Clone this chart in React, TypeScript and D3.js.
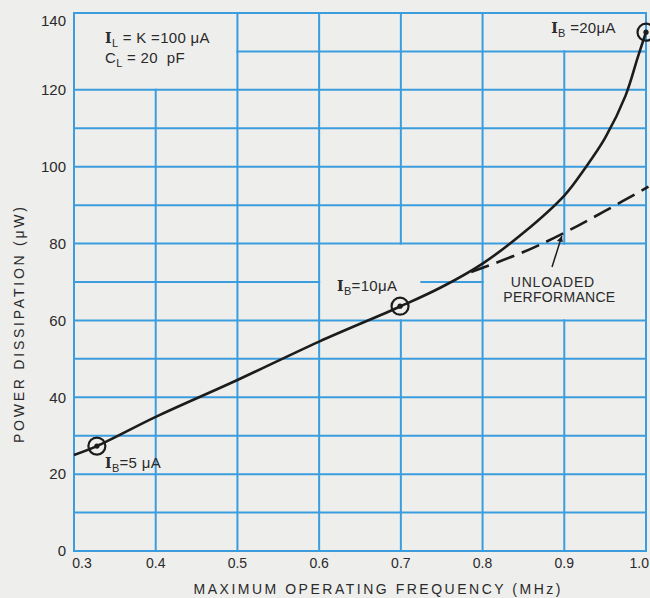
import React from 'react';
import * as d3 from 'd3';

const W = 650;
const H = 598;

// axis ticks
const xTicks = [0.3, 0.4, 0.5, 0.6, 0.7, 0.8, 0.9, 1.0];
const xTickLabels = ['0.3', '0.4', '0.5', '0.6', '0.7', '0.8', '0.9', '1.0'];
const yTicks = [0, 20, 40, 60, 80, 100, 120, 140];
const yGridValues = [0, 10, 20, 30, 40, 50, 60, 70, 80, 90, 100, 110, 120, 130, 140];

// loaded curve (solid)
const loadedFreq = [0.3, 0.328, 0.4, 0.5, 0.6, 0.7, 0.75, 0.8, 0.85, 0.9, 0.925, 0.95, 0.975, 0.99, 1.0];
const loadedPower = [25, 27.3, 34.9, 44.5, 54.5, 63.7, 68.7, 74.8, 82.8, 92.5, 99.5, 107.5, 118.5, 128.5, 135];

// unloaded performance (dashed)
const unloadedFreq = [0.786, 0.85, 0.9, 0.95, 1.003];
const unloadedPower = [72.6, 77.8, 82.8, 88.5, 94.8];

// bias current markers
const markerFreq = [0.328, 0.699, 1.0];
const markerPower = [27.3, 63.7, 135];
const markerSub = ['B', 'B', 'B'];
const markerValue = ['=5\u00a0\u03bcA', '=10\u03bcA', '\u00a0=20\u03bcA'];

// grid segments that differ from full span (value, from, to)
const hGridBreaks: Record<number, [number, number][]> = {
  130: [[0.5, 1.0]],
  70: [[0.3, 0.6], [0.725, 0.8]],
};
const vGridBreaks: Record<number, [number, number][]> = {
  0.4: [[0, 120]],
  0.7: [[0, 60], [80, 140]],
  0.9: [[0, 60], [80, 130]],
};

const GRID = '#3b9ddd';
const INK = '#1c1c1c';
const TXT = '#2a2a2a';
const FONT = '"Liberation Sans", Arial, sans-serif';
const SERIF_I = '"DejaVu Serif", "Liberation Serif", serif';

export default function App() {
  const x = d3.scaleLinear().domain([0.3, 1.0]).range([74, 646]);
  const y = d3.scaleLinear().domain([0, 140]).range([551, 13]);

  const line = d3
    .line<[number, number]>()
    .x((d) => x(d[0]))
    .y((d) => y(d[1]))
    .curve(d3.curveCatmullRom.alpha(0.5));

  const loaded = loadedFreq.map((f, i) => [f, loadedPower[i]] as [number, number]);
  const unloaded = unloadedFreq.map((f, i) => [f, unloadedPower[i]] as [number, number]);

  const hLines: { v: number; a: number; b: number }[] = [];
  yGridValues.forEach((v) => {
    const spans = hGridBreaks[v] || [[0.3, 1.0]];
    spans.forEach(([a, b]) => hLines.push({ v, a, b }));
  });
  const vLines: { v: number; a: number; b: number }[] = [];
  xTicks.forEach((v) => {
    const spans = vGridBreaks[v] || [[0, 140]];
    spans.forEach(([a, b]) => vLines.push({ v, a, b }));
  });

  const subLabel = (
    key: string,
    xv: number,
    yv: number,
    main: string,
    sub: string,
    rest: string,
    anchor: 'start' | 'end' = 'start'
  ) => (
    <text
      key={key}
      x={x(xv)}
      y={y(yv)}
      fontFamily={FONT}
      fontSize={15}
      fill={TXT}
      textAnchor={anchor}
      letterSpacing={0.3}
    >
      <tspan fontFamily={SERIF_I} fontWeight="bold" fontSize={14}>
        {main}
      </tspan>
      <tspan dy={4} fontSize={11}>
        {sub}
      </tspan>
      <tspan dy={-4}>{rest}</tspan>
    </text>
  );

  return (
    <svg
      width={W}
      height={H}
      viewBox={`0 0 ${W} ${H}`}
      style={{ position: 'absolute', left: 0, top: 0, display: 'block' }}
    >
      <rect x={0} y={0} width={W} height={H} fill="#eeeeec" />

      {/* grid */}
      <g stroke={GRID} strokeWidth={2} strokeLinecap="square">
        {hLines.map((l, i) => (
          <line key={'h' + i} x1={x(l.a)} x2={x(l.b)} y1={y(l.v)} y2={y(l.v)} />
        ))}
        {vLines.map((l, i) => (
          <line key={'v' + i} x1={x(l.v)} x2={x(l.v)} y1={y(l.a)} y2={y(l.b)} />
        ))}
      </g>

      {/* y tick labels */}
      <g fontFamily={FONT} fontSize={15} fill={TXT} textAnchor="end">
        {yTicks.map((v, i) => (
          <text key={v} x={66} y={y(v) + (i === yTicks.length - 1 ? 8 : 0)} dy="0.35em">
            {String(v)}
          </text>
        ))}
      </g>

      {/* x tick labels */}
      <g fontFamily={FONT} fontSize={14} fill={TXT}>
        {xTicks.map((v, i) => {
          const last = i === xTicks.length - 1;
          return (
            <text
              key={v}
              x={x(v) + (i === 0 ? 8 : last ? 3 : 0)}
              y={563}
              dy="0.35em"
              textAnchor={last ? 'end' : 'middle'}
            >
              {xTickLabels[i]}
            </text>
          );
        })}
      </g>

      {/* axis titles */}
      <text
        x={377}
        y={594}
        fontFamily={FONT}
        fontSize={14}
        fill={TXT}
        textAnchor="middle"
        textLength={367}
        lengthAdjust="spacing"
      >
        MAXIMUM OPERATING FREQUENCY (MHz)
      </text>
      <text
        transform="translate(24,325) rotate(-90)"
        fontFamily={FONT}
        fontSize={14}
        fill={TXT}
        textAnchor="middle"
        textLength={236}
        lengthAdjust="spacing"
      >
        POWER DISSIPATION ({'\u03bc'}W)
      </text>

      {/* curves */}
      <path d={line(loaded) || ''} fill="none" stroke={INK} strokeWidth={2.6} />
      <path
        d={line(unloaded) || ''}
        fill="none"
        stroke={INK}
        strokeWidth={2.6}
        strokeDasharray="19 8"
      />

      {/* markers */}
      {markerFreq.map((f, i) => (
        <g key={'m' + i}>
          <circle cx={x(f)} cy={y(markerPower[i])} r={8.5} fill="none" stroke={INK} strokeWidth={2.2} />
          <circle cx={x(f)} cy={y(markerPower[i])} r={2.6} fill={INK} />
        </g>
      ))}

      {/* marker labels */}
      {subLabel('l0', 0.338, 21.6, 'I', markerSub[0], markerValue[0])}
      {subLabel('l1', 0.622, 67.7, 'I', markerSub[1], markerValue[1])}
      {subLabel('l2', 0.884, 134.8, 'I', markerSub[2], markerValue[2])}

      {/* conditions */}
      {subLabel('c0', 0.338, 132.2, 'I', 'L', '\u00a0= K =100\u00a0\u03bcA')}
      <text x={x(0.338)} y={y(127)} fontFamily={FONT} fontSize={15} fill={TXT} letterSpacing={0.3}>
        C
        <tspan dy={4} fontSize={11}>
          L
        </tspan>
        <tspan dy={-4}>{'\u00a0= 20\u00a0\u00a0pF'}</tspan>
      </text>

      {/* unloaded annotation */}
      <text
        x={x(0.886)}
        y={y(68.7)}
        fontFamily={FONT}
        fontSize={14}
        fill={TXT}
        textAnchor="middle"
        letterSpacing={0.8}
      >
        UNLOADED
      </text>
      <text
        x={x(0.894)}
        y={y(64.8)}
        fontFamily={FONT}
        fontSize={14}
        fill={TXT}
        textAnchor="middle"
        letterSpacing={0.3}
      >
        PERFORMANCE
      </text>
      <line
        x1={x(0.885)}
        y1={y(73.9)}
        x2={x(0.897)}
        y2={y(82)}
        stroke={INK}
        strokeWidth={1.5}
      />
      <path d={`M${x(0.897)},${y(82)} l-5,5 l6,1 z`} fill={INK} />
    </svg>
  );
}
